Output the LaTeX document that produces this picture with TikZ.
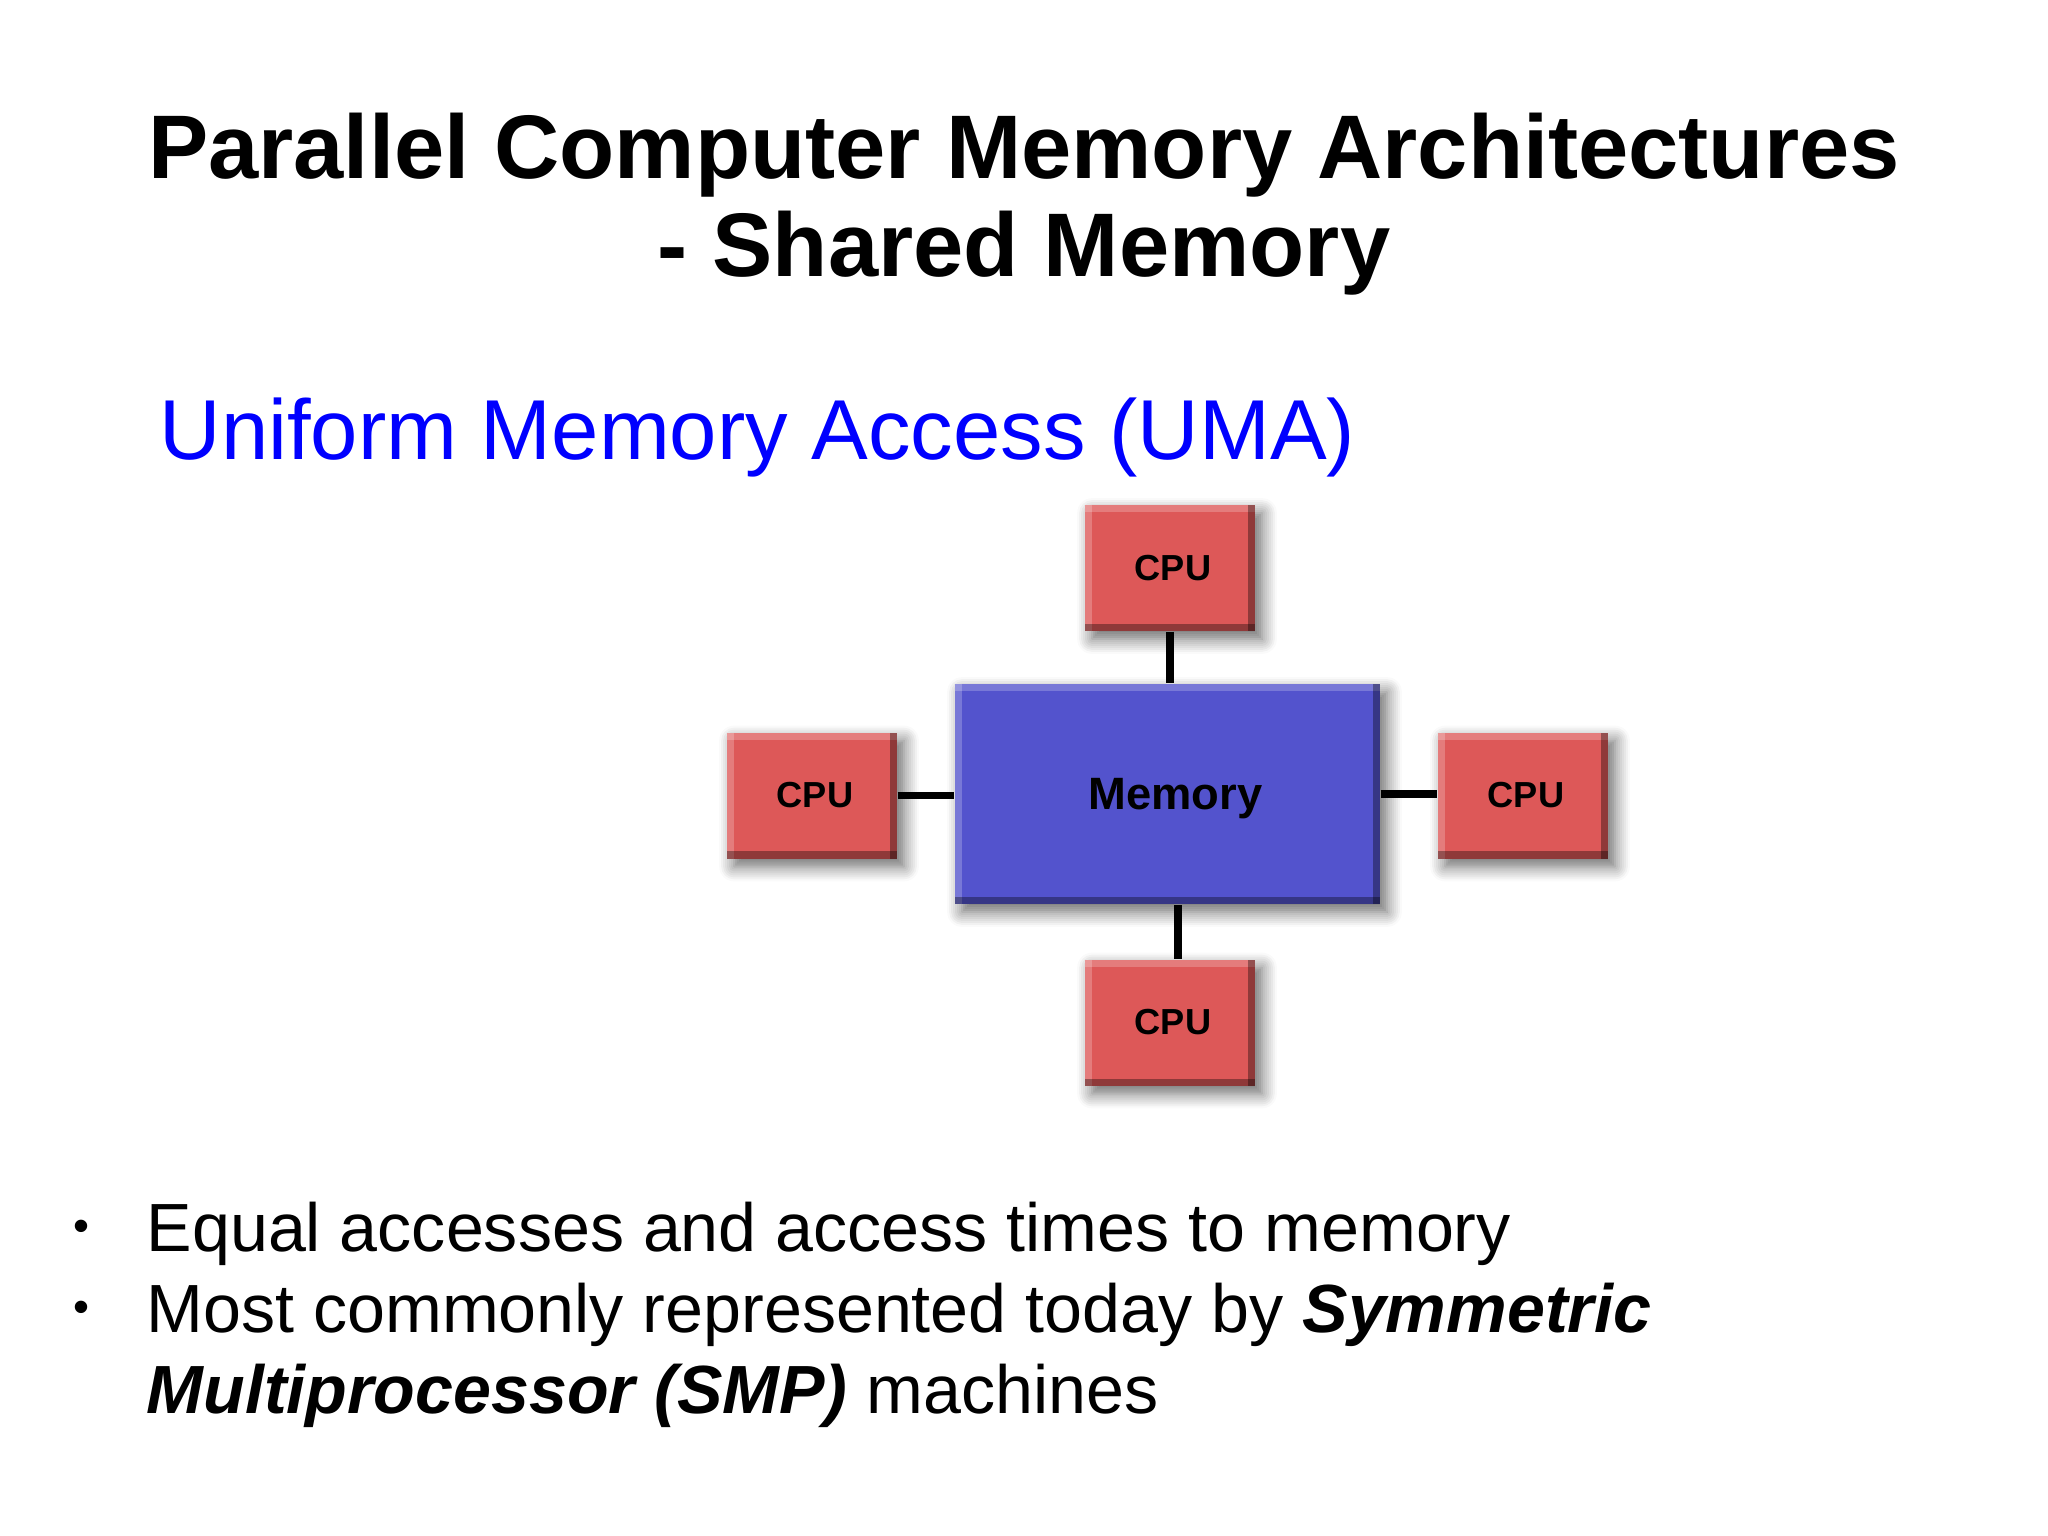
\documentclass[tikz,border=0pt]{standalone}
\usepackage{fontspec}
\setmainfont{Liberation Sans}
\usepackage{tikz}
\usetikzlibrary{shadows.blur}

\definecolor{cpured}{RGB}{221,88,88}
\definecolor{memblue}{RGB}{83,83,205}
\definecolor{umablue}{RGB}{0,0,255}

\tikzset{
  bevel/.style={path picture={
    \fill [white,opacity=0.22] (path picture bounding box.north west) rectangle ([yshift=-0.07cm]path picture bounding box.north east);
    \fill [white,opacity=0.22] (path picture bounding box.north west) rectangle ([xshift=0.07cm]path picture bounding box.south west);
    \fill [black,opacity=0.35] (path picture bounding box.south west) rectangle ([yshift=0.07cm]path picture bounding box.south east);
    \fill [black,opacity=0.35] (path picture bounding box.north east) rectangle ([xshift=-0.07cm]path picture bounding box.south east);
  }},
  cpubox/.style={rectangle, fill=cpured, minimum width=1.70cm, minimum height=1.26cm, inner sep=0pt,
    font=\bfseries\fontsize{10.3}{12}\selectfont, bevel,
    blur shadow={shadow xshift=0.07cm, shadow yshift=-0.08cm, shadow blur steps=8, shadow blur radius=0.8ex, shadow opacity=60}},
  membox/.style={cpubox, fill=memblue, minimum width=4.25cm, minimum height=2.20cm,
    font=\bfseries\fontsize{12.9}{15}\selectfont, text height=0.40cm, text depth=0.08cm},
  link/.style={draw=black, line width=2.1pt},
  dotmark/.style={font=\fontsize{13}{15}\selectfont},
}

\begin{document}
\begin{tikzpicture}[x=1cm,y=1cm]
  \useasboundingbox (0,0) rectangle (20.48,-15.36);
  \tikzstyle{every node}+=[inner sep=0pt]

  \node [anchor=base, font=\bfseries\fontsize{25.7}{30}\selectfont] (title1) at (10.24,-1.79) {Parallel Computer Memory Architectures};
  \node [anchor=base, font=\bfseries\fontsize{25.7}{30}\selectfont] (title2) at (10.24,-2.77) {- Shared Memory};
  \node [anchor=base west, text=umablue, font=\fontsize{24.2}{29}\selectfont] (uma) at (1.59,-4.60) {Uniform Memory Access (UMA)};

  \node [membox] (mem) at (11.675,-7.94) {\hspace{0.16cm}Memory};
  \node [cpubox] (cput) at (11.70,-5.68) {\hspace{0.06cm}CPU};
  \node [cpubox] (cpul) at (8.12,-7.955) {\hspace{0.06cm}CPU};
  \node [cpubox] (cpur) at (15.23,-7.955) {\hspace{0.06cm}CPU};
  \node [cpubox] (cpub) at (11.70,-10.225) {\hspace{0.06cm}CPU};

  \draw [link] (cput.south) -- (cput.south |- mem.north);
  \draw [link] (cpul.east) -- (cpul.east -| mem.west);
  \draw [link] (mem.east) -- (mem.east -| cpur.west);
  \draw [link] ([xshift=0.08cm]cpub.north) -- ([xshift=0.08cm]cpub.north |- mem.south);

  \node [dotmark] (dot1) at (0.81,-12.31) {•};
  \node [anchor=base west, font=\fontsize{19.4}{23}\selectfont] (item1) at (1.46,-12.51) {Equal accesses and access times to memory};
  \node [dotmark] (dot2) at (0.81,-13.12) {•};
  \node [anchor=base west, font=\fontsize{19.4}{23}\selectfont] (item2) at (1.46,-13.32) {Most commonly represented today by \textbf{\textit{Symmetric}}};
  \node [anchor=base west, font=\fontsize{19.4}{23}\selectfont] (item3) at (1.46,-14.13) {\textbf{\textit{Multiprocessor (SMP)}} machines};
\end{tikzpicture}
\end{document}
